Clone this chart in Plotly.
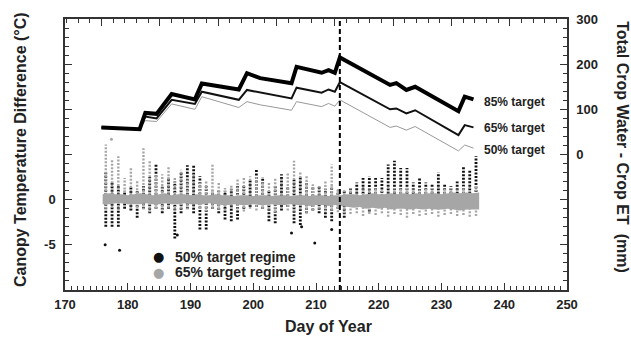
import plotly.graph_objects as go

# ---------------- data ----------------
# cumulative water balance curves (right axis, mm)
knot_days = [175.8, 181.9, 182.8, 184.6, 187.0, 190.7, 191.8, 197.7, 199.0, 201.1,
             206.1, 206.9, 210.9, 212.0, 213.0, 213.8, 221.8, 222.8, 224.4, 225.8,
             232.7, 233.7, 235.1]
target_85 = [60, 56, 92, 90, 134, 122, 157, 144, 180, 169,
             158, 194, 181, 187, 181, 215, 154, 158, 143, 150,
             96, 128, 122]
target_65 = [60, 56, 84, 80, 121, 112, 139, 121, 143, 137,
             124, 148, 137, 144, 139, 160, 100, 102, 91, 98,
             43, 65, 60]
target_50 = [60, 56, 75, 73, 112, 100, 128, 104, 117, 110,
             98, 117, 106, 113, 107, 121, 60, 63, 54, 62,
             8, 21, 14]
target_names = ["85% target", "65% target", "50% target"]
label_day = 236.4
label_vals = [117, 58, 10]

cutoff_day = 213.8

# canopy temperature difference (left axis, deg C): daily streak extents
days = list(range(176, 236))
gray_hi = [6.1, 4.4, 4.8, 2.4, 3.5, 2.2, 5.7, 4.4, 2.8, 2.8,
           3.7, 2.4, 3.3, 2.4, 3.0, 1.9, 2.0, 3.9, 2.0, 1.3,
           1.7, 2.4, 2.4, 2.6, 2.6, 1.9, 1.9, 2.4, 2.4, 3.0,
           4.3, 3.0, 2.6, 1.7, 1.5, 2.0, 3.9, 1.3, 1.2, 1.3,
           1.2, 1.4, 1.2, 1.3, 1.2, 1.5, 1.3, 1.2, 1.4, 1.2,
           1.3, 1.2, 1.3, 1.4, 1.2, 1.3, 1.3, 1.5, 1.4, 1.6]
gray_lo = [-1.0, -0.9, -1.2, -0.8, -1.0, -0.9, -1.1, -1.4, -1.0, -1.2,
           -0.9, -1.3, -1.0, -1.1, -0.9, -1.0, -1.3, -1.0, -1.1, -1.2,
           -1.0, -1.1, -1.3, -1.0, -1.2, -1.0, -1.1, -1.4, -1.0, -1.2,
           -1.3, -1.1, -1.5, -1.2, -1.0, -1.3, -1.2, -1.4, -1.5, -1.6,
           -1.5, -1.8, -1.6, -1.7, -1.5, -1.9, -1.6, -1.7, -2.0, -1.6,
           -1.8, -1.7, -1.6, -1.9, -1.7, -1.6, -1.8, -1.7, -1.9, -1.8]
black_hi = [3.0, 2.0, 1.5, 1.0, 1.5, 1.0, 1.5, 2.5, 4.0, 1.5,
            2.5, 2.0, 3.0, 3.8, 3.9, 2.6, 1.5, 1.0, 1.0, 1.0,
            1.2, 1.5, 1.5, 2.2, 3.3, 2.5, 1.0, 1.5, 2.8, 1.5,
            2.2, 2.6, 2.0, 1.5, 1.5, 1.2, 1.5, 1.0, 1.0, 1.3,
            1.9, 2.4, 2.6, 2.4, 2.4, 3.9, 4.3, 3.5, 3.5, 1.9,
            2.4, 1.9, 1.7, 3.0, 1.7, 1.5, 2.0, 3.7, 3.3, 4.8]
black_lo = [-3.0, -3.0, -3.0, -1.0, -1.2, -2.0, -1.0, -1.5, -1.0, -1.5,
            -1.0, -4.3, -1.5, -1.0, -1.5, -3.3, -3.3, -1.0, -1.5, -2.2,
            -2.4, -2.2, -1.0, -0.8, -0.8, -1.0, -2.4, -2.6, -1.2, -0.8,
            -2.6, -2.8, -1.5, -1.2, -1.5, -2.0, -2.4, -1.0, -2.0, -0.5,
            -0.5, -0.5, -1.3, -0.5, -0.8, -0.5, -0.5, -0.5, -0.5, -0.5,
            -0.6, -0.5, -0.5, -0.5, -0.5, -0.5, -0.5, -0.5, -0.5, -0.3]
band_days = list(range(176, 237))
band_hi = [0.6, 0.7, 0.6, 0.6, 0.5, 0.6, 0.7, 0.6, 0.5, 0.6,
           0.7, 0.5, 0.6, 0.6, 0.5, 0.6, 0.5, 0.5, 0.6, 0.5,
           0.5, 0.4, 0.5, 0.5, 0.4, 0.5, 0.5, 0.4, 0.5, 0.5,
           0.4, 0.5, 0.5, 0.4, 0.5, 0.5, 0.4, 0.5, 0.5, 0.6,
           0.6, 0.5, 0.6, 0.7, 0.6, 0.6, 0.7, 0.6, 0.7, 0.6,
           0.7, 0.6, 0.7, 0.7, 0.6, 0.7, 0.8, 0.7, 0.8, 0.7,
           0.8]
band_lo = [-0.5, -0.5, -0.4, -0.4, -0.5, -0.5, -0.5, -0.4, -0.5, -0.5,
           -0.4, -0.5, -0.5, -0.4, -0.5, -0.5, -0.5, -0.4, -0.5, -0.6,
           -0.6, -0.5, -0.6, -0.6, -0.5, -0.6, -0.6, -0.5, -0.6, -0.6,
           -0.5, -0.6, -0.6, -0.7, -0.6, -0.6, -0.7, -0.6, -0.7, -0.8,
           -0.9, -0.8, -1.0, -0.9, -1.0, -0.9, -1.1, -1.0, -1.0, -1.1,
           -1.0, -1.1, -1.0, -1.1, -1.1, -1.0, -1.1, -1.2, -1.1, -1.1,
           -1.1]
black_out_day = [176.4, 178.7, 187.9, 206.1, 207.7, 209.8, 212.5]
black_out_val = [-5.0, -5.6, -3.9, -3.7, -3.0, -4.8, -3.3]
gray_out_day = [177.4]
gray_out_val = [6.7]
legend_names = ["50% target regime", "65% target regime"]

# ---------------- style ----------------
FONT = "Liberation Sans, Arial, Helvetica, sans-serif"
BLACK = "#111111"
GRAY = "#a6a6a6"
AX = "#333333"


def streaks(ds, lo, hi, offset=0.5):
    xs, ys = [], []
    for d, a, b in zip(ds, lo, hi):
        xs += [d + offset, d + offset, None]
        ys += [a, b, None]
    return xs, ys


fig = go.Figure()

bx, by = streaks(days, black_lo, black_hi)
fig.add_trace(go.Scatter(x=bx, y=by, mode="lines",
                         line=dict(color=BLACK, width=2.8, dash="2px,1.5px"),
                         showlegend=False, hoverinfo="skip"))
fig.add_trace(go.Scatter(x=black_out_day, y=black_out_val, mode="markers",
                         marker=dict(color=BLACK, size=3), showlegend=False))
fig.add_trace(go.Scatter(x=band_days, y=band_lo, mode="lines",
                         line=dict(width=0, color=GRAY), showlegend=False))
fig.add_trace(go.Scatter(x=band_days, y=band_hi, mode="lines", fill="tonexty",
                         fillcolor=GRAY, line=dict(width=0, color=GRAY),
                         showlegend=False))
gx, gy = streaks(days, gray_lo, gray_hi)
fig.add_trace(go.Scatter(x=gx, y=gy, mode="lines",
                         line=dict(color=GRAY, width=2.4, dash="2px,1.5px"),
                         showlegend=False, hoverinfo="skip"))
fig.add_trace(go.Scatter(x=gray_out_day, y=gray_out_val, mode="markers",
                         marker=dict(color=GRAY, size=3), showlegend=False))

# draw the thin curve first so the thick one stays solid where they coincide
for vals, st in zip([target_50, target_65, target_85],
                    [dict(color="#999999", width=1),
                     dict(color="#111111", width=2),
                     dict(color="#000000", width=4)]):
    fig.add_trace(go.Scatter(x=knot_days, y=vals, mode="lines", line=st,
                             yaxis="y2", showlegend=False))

# dummy trace so the top axis is drawn
fig.add_trace(go.Scatter(x=[None], y=[None], xaxis="x2", showlegend=False))

fig.add_vline(x=cutoff_day, line=dict(color="#000000", width=2, dash="5px,3px"))

tickfont = dict(family=FONT, size=13, color="#222222", weight="bold")
common = dict(showgrid=False, zeroline=False, showline=True, linecolor=AX,
              linewidth=1.5, ticks="inside", ticklen=7, tickwidth=1.3,
              tickcolor=AX, tickfont=tickfont)

fig.update_layout(
    width=631, height=343, autosize=False,
    margin=dict(l=65, r=64, t=19, b=53),
    paper_bgcolor="white", plot_bgcolor="white",
    showlegend=False,
    xaxis=dict(range=[170, 250], tickmode="linear", tick0=170, dtick=10,
               minor=dict(ticks="inside", dtick=1, ticklen=4, tickcolor=AX, tickwidth=1),
               ticklabelstandoff=2, **common),
    xaxis2=dict(range=[170, 250], overlaying="x", side="top", tickmode="linear",
                tick0=175.84, dtick=9.29, showticklabels=False,
                minor=dict(ticks="inside", tick0=175.84, dtick=1.858, ticklen=4,
                           tickcolor=AX, tickwidth=1),
                **common),
    yaxis=dict(range=[-10, 20], tickmode="array",
               tickvals=[-10, -5, 0, 5, 10, 15, 20],
               ticktext=["", "-5", "0", "", "", "", ""],
               minor=dict(ticks="inside", tickmode="linear", tick0=0, dtick=1,
                          ticklen=4, tickcolor=AX, tickwidth=1),
               ticklabelstandoff=5, **common),
    yaxis2=dict(range=[-300, 300], overlaying="y", side="right", tickmode="array",
                tickvals=[-300, -200, -100, 0, 100, 200, 300],
                ticktext=["", "", "", "0", "100", "200", "300"],
                minor=dict(ticks="inside", tickmode="linear", tick0=0, dtick=20,
                           ticklen=4, tickcolor=AX, tickwidth=1),
                ticklabelstandoff=5, **common),
)

# curve labels
for name, v in zip(target_names, label_vals):
    fig.add_annotation(x=label_day, y=v, xref="x", yref="y2", text=name,
                       showarrow=False, xanchor="left", yanchor="middle",
                       font=dict(family=FONT, size=12, color="#222222", weight="bold"))

# axis titles
tfont = dict(family=FONT, size=16, color="#222222", weight="bold")
fig.add_annotation(x=-0.0896, y=0.5166, xref="paper", yref="paper",
                   text="Canopy Temperature Difference (°C)", textangle=-90,
                   showarrow=False, xanchor="center", yanchor="middle", font=tfont)
fig.add_annotation(x=1.109, y=0.528, xref="paper", yref="paper",
                   text="Total Crop Water - Crop ET  (mm)", textangle=90,
                   showarrow=False, xanchor="center", yanchor="middle", font=tfont)
fig.add_annotation(x=0.524, y=-0.133, xref="paper", yref="paper",
                   text="Day of Year", showarrow=False,
                   xanchor="center", yanchor="middle", font=tfont)

# legend (drawn as text)
lfont = dict(family=FONT, size=14, color="#222222", weight="bold")
for i, (name, col) in enumerate(zip(legend_names, [BLACK, GRAY])):
    yy = 0.1218 - i * 0.0554
    fig.add_annotation(x=0.1853, y=yy, xref="paper", yref="paper", text="●",
                       showarrow=False, xanchor="center", yanchor="middle",
                       font=dict(family="DejaVu Sans", size=13, color=col))
    fig.add_annotation(x=0.2151, y=yy, xref="paper", yref="paper", text=name,
                       showarrow=False, xanchor="left", yanchor="middle", font=lfont)

fig.write_html("out.html")
